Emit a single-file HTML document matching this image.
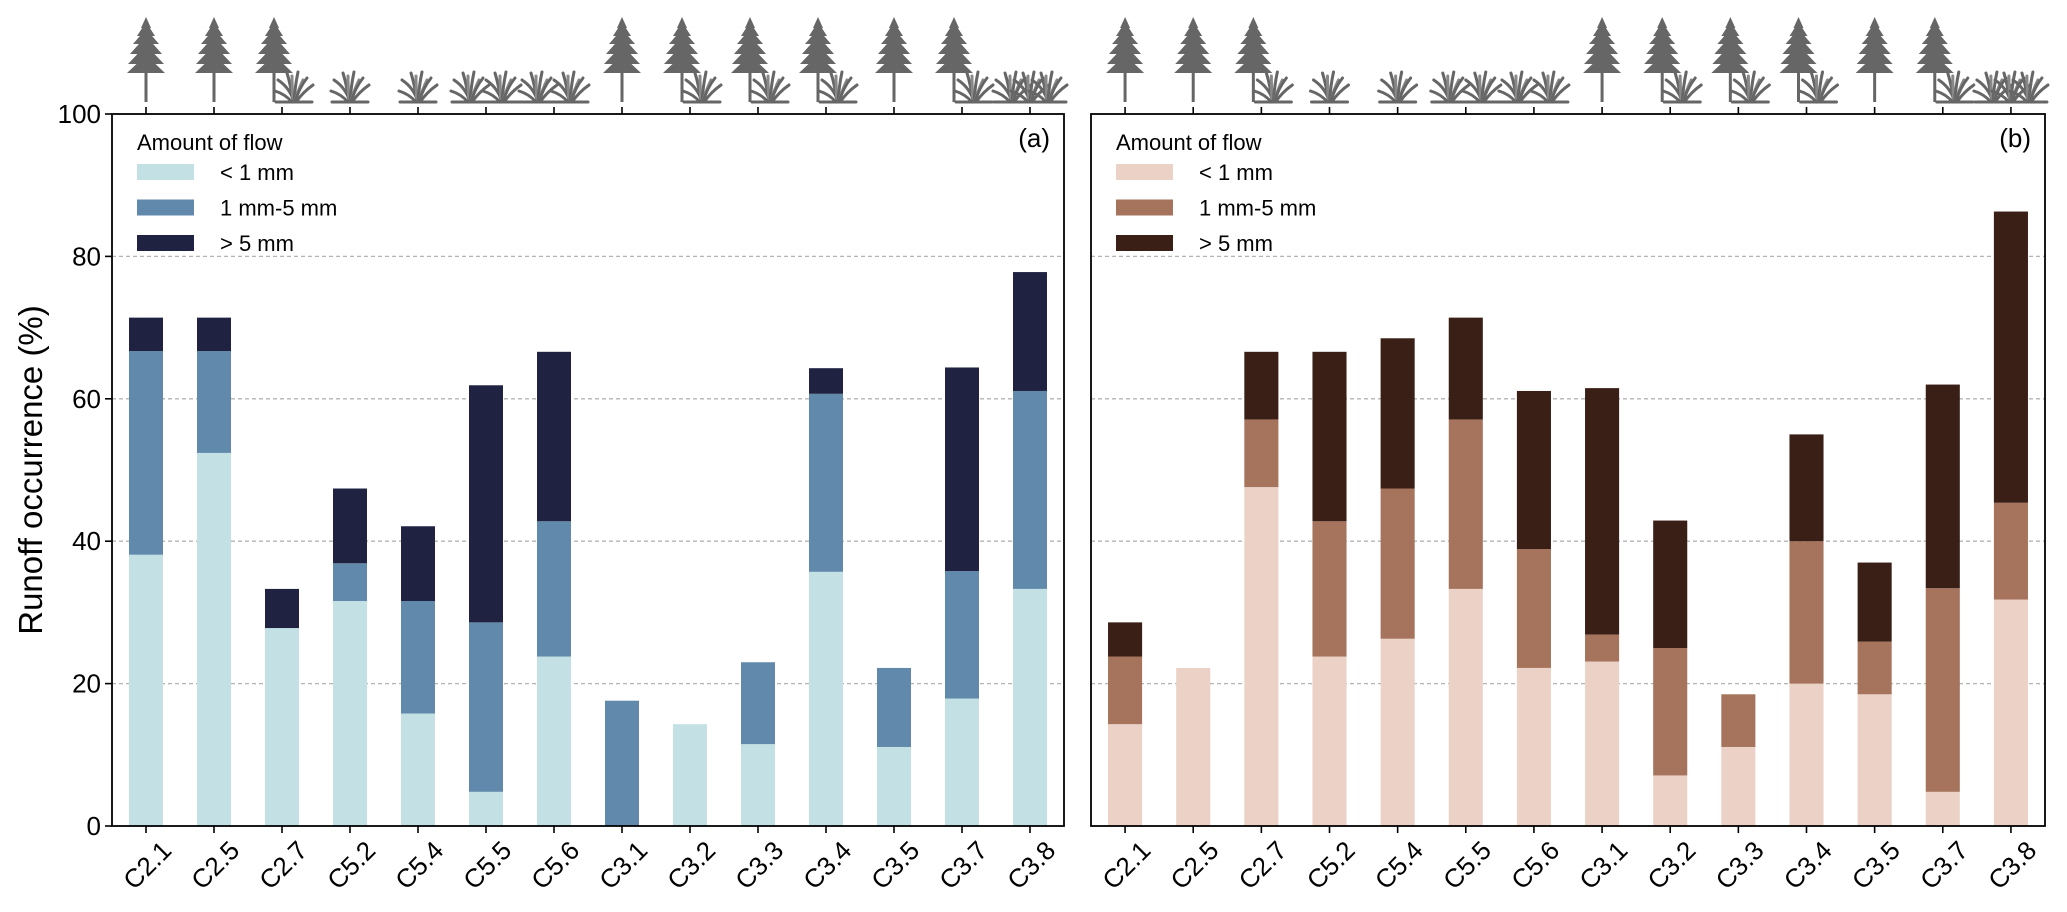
<!DOCTYPE html>
<html><head><meta charset="utf-8">
<style>
html,body{margin:0;padding:0;background:#fff;}
svg{display:block;font-family:"Liberation Sans","DejaVu Sans",sans-serif;}
</style></head>
<body>
<svg id="chart" width="2067" height="912" viewBox="0 0 2067 912" xmlns="http://www.w3.org/2000/svg">
<defs>
<g id="tree">
  <line x1="0" y1="30" x2="0" y2="102" stroke="#666" stroke-width="3"/>
  <polygon points="0,17 -5,28 5,28" fill="#666"/>
  <polygon points="0,22 -9,36 9,36" fill="#666"/>
  <polygon points="0,29 -13,44 13,44" fill="#666"/>
  <polygon points="0,36 -16,54 16,54" fill="#666"/>
  <polygon points="0,45 -18,64 18,64" fill="#666"/>
  <polygon points="0,55 -19,73 19,73" fill="#666"/>
</g>
<g id="grass" fill="none" stroke="#666" stroke-width="3" stroke-linecap="round">
  <path d="M0,102 Q-4,88 -16,80"/>
  <path d="M-1,102 Q-3,86 -7,73"/>
  <path d="M-1,102 Q-2,88 -2,76" stroke="#888"/>
  <path d="M0,102 Q1,86 4,72"/>
  <path d="M1,102 Q4,90 9,80" stroke="#888"/>
  <path d="M1,102 Q5,88 13,78"/>
  <path d="M2,102 Q9,92 19,85"/>
  <path d="M-2,102 Q-9,94 -19,91"/>
  <path d="M-18,102 L18,102" stroke-width="3"/>
</g>
</defs>
<g id="root"></g>
</svg>
<script>
const categories = ["C2.1","C2.5","C2.7","C5.2","C5.4","C5.5","C5.6","C3.1","C3.2","C3.3","C3.4","C3.5","C3.7","C3.8"];
const vegetation = ["tree","tree","tree+grass","grass","grass","grass2","grass2","tree","tree+grass","tree+grass","tree+grass","tree","tree+grass","grass3"];
const aLow  = [38.1,52.4,27.8,31.6,15.8,4.8,23.8,0,14.3,11.5,35.7,11.1,17.9,33.3];
const aMid  = [28.6,14.3,0,5.3,15.8,23.8,19.0,17.6,0,11.5,25.0,11.1,17.9,27.8];
const aHigh = [4.7,4.7,5.5,10.5,10.5,33.3,23.8,0,0,0,3.6,0,28.6,16.7];
const bLow  = [14.3,22.2,47.6,23.8,26.3,33.3,22.2,23.1,7.1,11.1,20.0,18.5,4.8,31.8];
const bMid  = [9.5,0,9.5,19.0,21.1,23.8,16.7,3.8,17.9,7.4,20.0,7.4,28.6,13.6];
const bHigh = [4.8,0,9.5,23.8,21.1,14.3,22.2,34.6,17.9,0,15.0,11.1,28.6,40.9];
const yTicks = [0,20,40,60,80,100];
const legendLabels = ["< 1 mm","1 mm-5 mm","> 5 mm"];

const NS="http://www.w3.org/2000/svg";
const root=document.getElementById('root');
function mk(tag,attrs,parent){const e=document.createElementNS(NS,tag);for(const k in attrs)e.setAttribute(k,attrs[k]);(parent||root).appendChild(e);return e;}
const TOP=114,BOT=826;
function yS(v){return BOT-(BOT-TOP)*v/100;}

const panels=[
 {x0:112,x1:1064,tag:"a",label:"(a)",series:[aLow,aMid,aHigh],colors:["#c3e1e5","#6189ab","#1f2341"],yLabels:true},
 {x0:1091,x1:2045,tag:"b",label:"(b)",series:[bLow,bMid,bHigh],colors:["#ecd2c6","#a6735c","#391f15"],yLabels:false}
];
const segNames=["low","mid","high"];

panels.forEach(p=>{
  const g=mk('g',{});
  
  
  const step=(p.x1-p.x0)/categories.length;
  const xS=i=>p.x0+(i+0.5)*step;
  yTicks.slice(1,5).forEach(t=>{
    const l=mk('line',{x1:p.x0,x2:p.x1,y1:yS(t),y2:yS(t),stroke:'#b4b4b4','stroke-width':1.3,'stroke-dasharray':'4,3'},g);
    
    
  });
  categories.forEach((c,i)=>{
    let base=0;
    p.series.forEach((s,k)=>{
      const v=s[i];
      if(v>0){
        const r=mk('rect',{x:xS(i)-step*0.25,width:step*0.5,y:yS(base+v),height:yS(base)-yS(base+v),fill:p.colors[k]},g);
        
        
      }
      base+=v;
    });
    mk('line',{x1:xS(i),x2:xS(i),y1:BOT,y2:BOT+7,stroke:'#000','stroke-width':1.6},g);
    mk('line',{x1:xS(i),x2:xS(i),y1:TOP,y2:TOP-7,stroke:'#000','stroke-width':1.6},g);
    const t=mk('text',{x:xS(i)+27,y:BOT+26,'text-anchor':'end','font-size':26,transform:`rotate(-45 ${xS(i)+27} ${BOT+26})`,fill:'#000'},g);
    t.textContent=c;
    
    
    const v=vegetation[i], X=xS(i);
    const vg=mk('g',{},g);
    
    
    if(v==="tree") mk('use',{href:'#tree',x:X,y:0},vg);
    else if(v==="tree+grass"){mk('use',{href:'#tree',x:X-8,y:0},vg);mk('use',{href:'#grass',x:X+12,y:0},vg);}
    else if(v==="grass") mk('use',{href:'#grass',x:X,y:0},vg);
    else if(v==="grass2"){mk('use',{href:'#grass',x:X-16,y:0},vg);mk('use',{href:'#grass',x:X+16,y:0},vg);}
    else {mk('use',{href:'#grass',x:X-18,y:0},vg);mk('use',{href:'#grass',x:X,y:0},vg);mk('use',{href:'#grass',x:X+18,y:0},vg);}
  });
  const f=mk('rect',{x:p.x0,y:TOP,width:p.x1-p.x0,height:BOT-TOP,fill:'none',stroke:'#000','stroke-width':1.8},g);
  
  
  if(p.yLabels){
    yTicks.forEach(t=>{
      mk('line',{x1:p.x0,x2:p.x0-7,y1:yS(t),y2:yS(t),stroke:'#000','stroke-width':1.6},g);
      const tx=mk('text',{x:p.x0-11,y:yS(t)+9,'text-anchor':'end','font-size':26,fill:'#000'},g);
      tx.textContent=t;
      
      
    });
  }
  const pl=mk('text',{x:p.x1-14,y:TOP+33,'text-anchor':'end','font-size':26,fill:'#000'},g);
  pl.textContent=p.label;
  
  
  const lg=mk('g',{},g);
  
  
  const lt=mk('text',{x:p.x0+25,y:TOP+36,'font-size':22,fill:'#000'},lg);
  lt.textContent="Amount of flow";
  
  
  legendLabels.forEach((lab,k)=>{
    const yy=TOP+50+k*35.5;
    const r=mk('rect',{x:p.x0+25,y:yy,width:57,height:16,fill:p.colors[k]},lg);
    
    
    const tx=mk('text',{x:p.x0+108,y:yy+16,'font-size':22,fill:'#000'},lg);
    tx.textContent=lab;
    
    
  });
});
const yt=mk('text',{x:42,y:470,'text-anchor':'middle','font-size':33,transform:'rotate(-90 42 470)',fill:'#000'});
yt.textContent="Runoff occurrence (%)";


</script>
</body></html>
